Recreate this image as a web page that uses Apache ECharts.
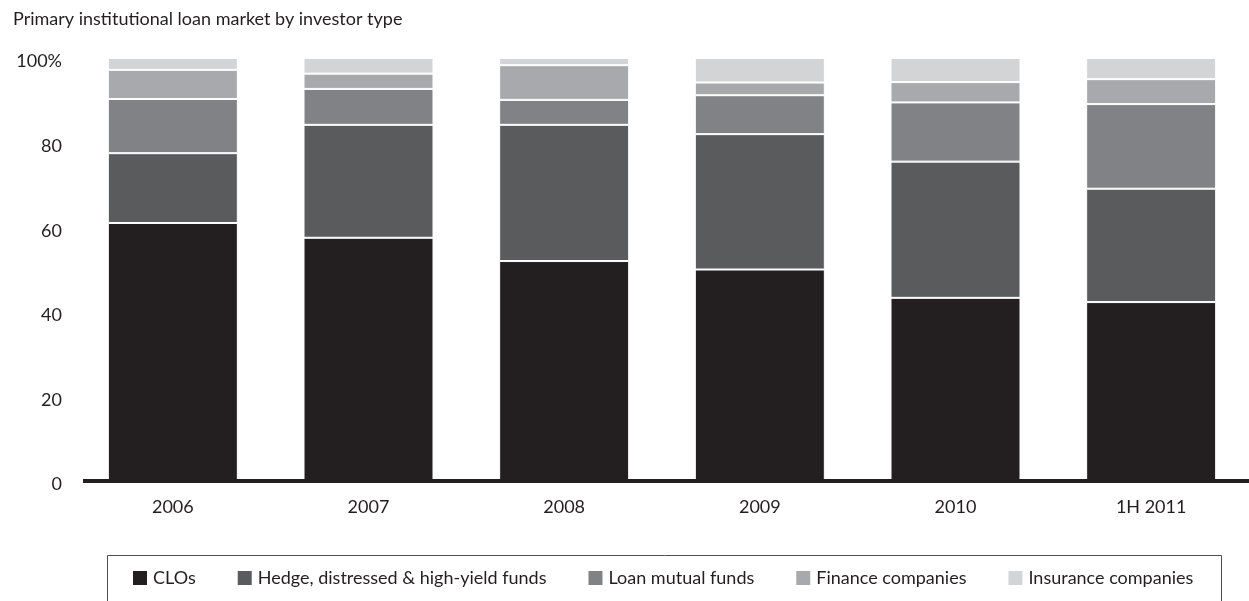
<!DOCTYPE html>
<html lang="en" style="height: 100%">
<head>
  <meta charset="utf-8">
</head>
<body style="height: 100%; margin: 0">
  <div id="container" style="width: 1249px; height: 601px"></div>
  <script type="text/javascript" src="https://cdn.jsdelivr.net/npm/echarts@6/dist/echarts.min.js"></script>
  <script type="text/javascript">
    var years = ['2006', '2007', '2008', '2009', '2010', '1H 2011'];
    var clos = [61, 57.5, 52, 50, 43.3, 42.3];
    var hedge = [16.5, 26.7, 32.2, 32, 32.2, 26.8];
    var loanFunds = [12.8, 8.5, 5.9, 9.2, 14, 20];
    var finance = [6.9, 3.6, 8.2, 3, 4.8, 5.9];
    var insurance = [2.8, 3.7, 1.7, 5.8, 5.7, 5];
    var yTicks = [0, 20, 40, 60, 80, 100];

    var font = 'Lato';
    var dom = document.getElementById('container');
    var myChart = echarts.init(dom, null, { renderer: 'canvas' });

    function bar(name, data, color) {
      return {
        name: name,
        type: 'bar',
        stack: 'total',
        data: data,
        barWidth: 130,
        itemStyle: { color: color, borderColor: '#ffffff', borderWidth: 1 },
        emphasis: { disabled: true }
      };
    }

    var option = {
      backgroundColor: '#ffffff',
      animation: false,
      textStyle: { fontFamily: font },
      title: {
        text: 'Primary institutional loan market by investor type',
        left: 8,
        top: 5,
        textStyle: { fontFamily: font, fontSize: 18, fontWeight: 'normal', color: '#231f20' }
      },
      legend: {
        left: 126,
        top: 564,
        itemWidth: 16,
        itemHeight: 16,
        itemGap: 40,
        icon: 'rect',
        textStyle: { fontFamily: font, fontSize: 18, color: '#231f20' },
        data: ['CLOs', 'Hedge, distressed & high-yield funds', 'Loan mutual funds', 'Finance companies', 'Insurance companies']
      },
      grid: { left: 75, top: 58, width: 1178, bottom: 120, containLabel: false },
      xAxis: {
        type: 'category',
        data: years,
        axisLine: { show: false },
        axisTick: { show: false },
        axisLabel: { margin: 17, fontSize: 18, color: '#231f20', fontFamily: font }
      },
      yAxis: {
        type: 'value',
        min: yTicks[0],
        max: yTicks[yTicks.length - 1],
        interval: 20,
        splitLine: { show: false },
        axisLine: { show: false },
        axisTick: { show: false },
        axisLabel: {
          margin: 13,
          fontSize: 18,
          color: '#231f20',
          fontFamily: font,
          verticalAlign: 'top',
          lineHeight: 7,
          formatter: function (v) { return v === 100 ? '100%' : String(v); }
        }
      },
      graphic: [
        {
          type: 'line',
          shape: { x1: 83, y1: 481, x2: 1249, y2: 481 },
          style: { stroke: '#231f20', lineWidth: 4 },
          z: 100
        },
        {
          type: 'rect',
          shape: { x: 107.5, y: 555.5, width: 1114, height: 60 },
          style: { fill: 'none', stroke: '#4d4d4f', lineWidth: 1 }
        }
      ],
      series: [
        bar('CLOs', clos, '#231f20'),
        bar('Hedge, distressed & high-yield funds', hedge, '#5a5b5d'),
        bar('Loan mutual funds', loanFunds, '#818286'),
        bar('Finance companies', finance, '#a8a9ad'),
        bar('Insurance companies', insurance, '#d3d4d6')
      ]
    };

    myChart.setOption(option);
    window.addEventListener('resize', myChart.resize);
  </script>
</body>
</html>
